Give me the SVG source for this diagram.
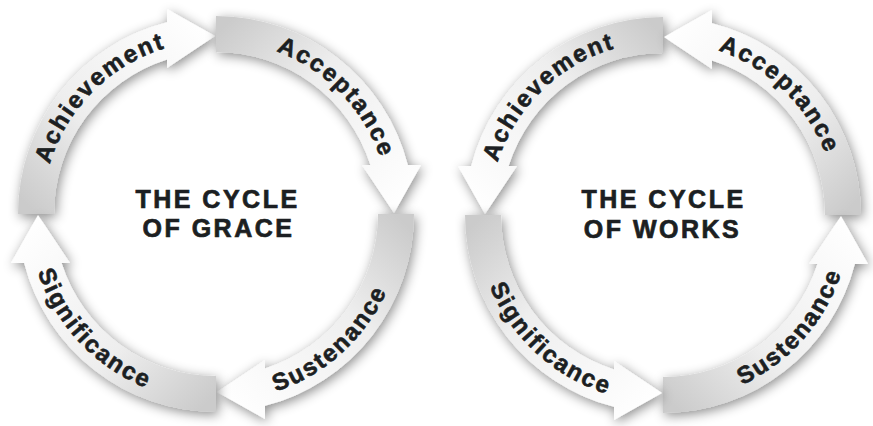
<svg xmlns="http://www.w3.org/2000/svg" xmlns:xlink="http://www.w3.org/1999/xlink" width="873" height="426" viewBox="0 0 873 426">
<style>
.lbl{font-family:"Liberation Sans",Arial,sans-serif;font-weight:bold;font-size:24px;letter-spacing:2px;fill:#1c1f22;stroke:#1c1f22;stroke-width:0.6px}
.ttl{font-family:"Liberation Sans",Arial,sans-serif;font-weight:bold;font-size:25px;letter-spacing:2.5px;fill:#1c1f22;stroke:#1c1f22;stroke-width:0.7px;text-anchor:middle}
</style>
<defs>
<linearGradient id="fade" gradientUnits="userSpaceOnUse" x1="0" y1="-180" x2="180" y2="0">
<stop offset="0" stop-color="#cbcbcb"/>
<stop offset="0.4" stop-color="#eeeeee"/>
<stop offset="1" stop-color="#ffffff"/>
</linearGradient>
<filter id="sh" x="-25%" y="-25%" width="150%" height="150%">
<feGaussianBlur in="SourceAlpha" stdDeviation="6"/>
<feOffset dx="2" dy="3" result="b"/>
<feFlood flood-color="#000" flood-opacity="0.45"/>
<feComposite in2="b" operator="in"/>
<feMerge><feMergeNode/><feMergeNode in="SourceGraphic"/></feMerge>
</filter>
<path id="arw" fill="url(#fade)" d="M 0,-198 A 198 198 0 0 1 191.84,-49 L 205,-49 L 178,-1 L 146,-49 L 154.41,-49 A 162 162 0 0 0 0,-162 Z"/>
<path id="tp-g-ach" d="M 42.5,214 A 173.5 173.5 0 0 1 216,40.5"/>
<path id="tp-g-acc" d="M 216,40.5 A 173.5 173.5 0 0 1 389.5,214"/>
<path id="tp-g-sus" d="M 216,401.5 A 187.5 187.5 0 0 0 403.5,214"/>
<path id="tp-g-sig" d="M 28.5,214 A 187.5 187.5 0 0 0 216,401.5"/>
<path id="tp-w-ach" d="M 489.5,215 A 173.5 173.5 0 0 1 663,41.5"/>
<path id="tp-w-acc" d="M 663,41.5 A 173.5 173.5 0 0 1 836.5,215"/>
<path id="tp-w-sig" d="M 475.5,215 A 187.5 187.5 0 0 0 663,402.5"/>
<path id="tp-w-sus" d="M 663,402.5 A 187.5 187.5 0 0 0 850.5,215"/>
</defs>
<rect width="873" height="426" fill="#fff"/>

<g id="cycle-of-grace">
<g id="grace-achievement">
<g filter="url(#sh)"><use xlink:href="#arw" href="#arw" transform="translate(216,214) rotate(270)"/></g>
<text class="lbl"><textPath xlink:href="#tp-g-ach" href="#tp-g-ach" startOffset="50%" text-anchor="middle">Achievement</textPath></text>
</g>
<g id="grace-acceptance">
<g filter="url(#sh)"><use xlink:href="#arw" href="#arw" transform="translate(216,214)"/></g>
<text class="lbl"><textPath xlink:href="#tp-g-acc" href="#tp-g-acc" startOffset="51%" text-anchor="middle">Acceptance</textPath></text>
</g>
<g id="grace-sustenance">
<g filter="url(#sh)"><use xlink:href="#arw" href="#arw" transform="translate(216,214) rotate(90)"/></g>
<text class="lbl"><textPath xlink:href="#tp-g-sus" href="#tp-g-sus" startOffset="47%" text-anchor="middle">Sustenance</textPath></text>
</g>
<g id="grace-significance">
<g filter="url(#sh)"><use xlink:href="#arw" href="#arw" transform="translate(216,214) rotate(180)"/></g>
<text class="lbl"><textPath xlink:href="#tp-g-sig" href="#tp-g-sig" startOffset="48%" text-anchor="middle">Significance</textPath></text>
</g>
<g id="grace-title">
<text class="ttl" x="217.5" y="208">THE CYCLE</text>
<text class="ttl" x="218.5" y="237">OF GRACE</text>
</g>
</g>

<g id="cycle-of-works">
<g id="works-achievement">
<g filter="url(#sh)"><use xlink:href="#arw" href="#arw" transform="translate(663,215) scale(-1,1)"/></g>
<text class="lbl"><textPath xlink:href="#tp-w-ach" href="#tp-w-ach" startOffset="51%" text-anchor="middle">Achievement</textPath></text>
</g>
<g id="works-acceptance">
<g filter="url(#sh)"><use xlink:href="#arw" href="#arw" transform="translate(663,215) rotate(90) scale(-1,1)"/></g>
<text class="lbl"><textPath xlink:href="#tp-w-acc" href="#tp-w-acc" startOffset="49%" text-anchor="middle">Acceptance</textPath></text>
</g>
<g id="works-sustenance">
<g filter="url(#sh)"><use xlink:href="#arw" href="#arw" transform="translate(663,215) rotate(180) scale(-1,1)"/></g>
<text class="lbl"><textPath xlink:href="#tp-w-sus" href="#tp-w-sus" startOffset="54%" text-anchor="middle">Sustenance</textPath></text>
</g>
<g id="works-significance">
<g filter="url(#sh)"><use xlink:href="#arw" href="#arw" transform="translate(663,215) rotate(270) scale(-1,1)"/></g>
<text class="lbl"><textPath xlink:href="#tp-w-sig" href="#tp-w-sig" startOffset="53%" text-anchor="middle">Significance</textPath></text>
</g>
<g id="works-title">
<text class="ttl" x="663.5" y="208">THE CYCLE</text>
<text class="ttl" x="662.5" y="238">OF WORKS</text>
</g>
</g>
</svg>
